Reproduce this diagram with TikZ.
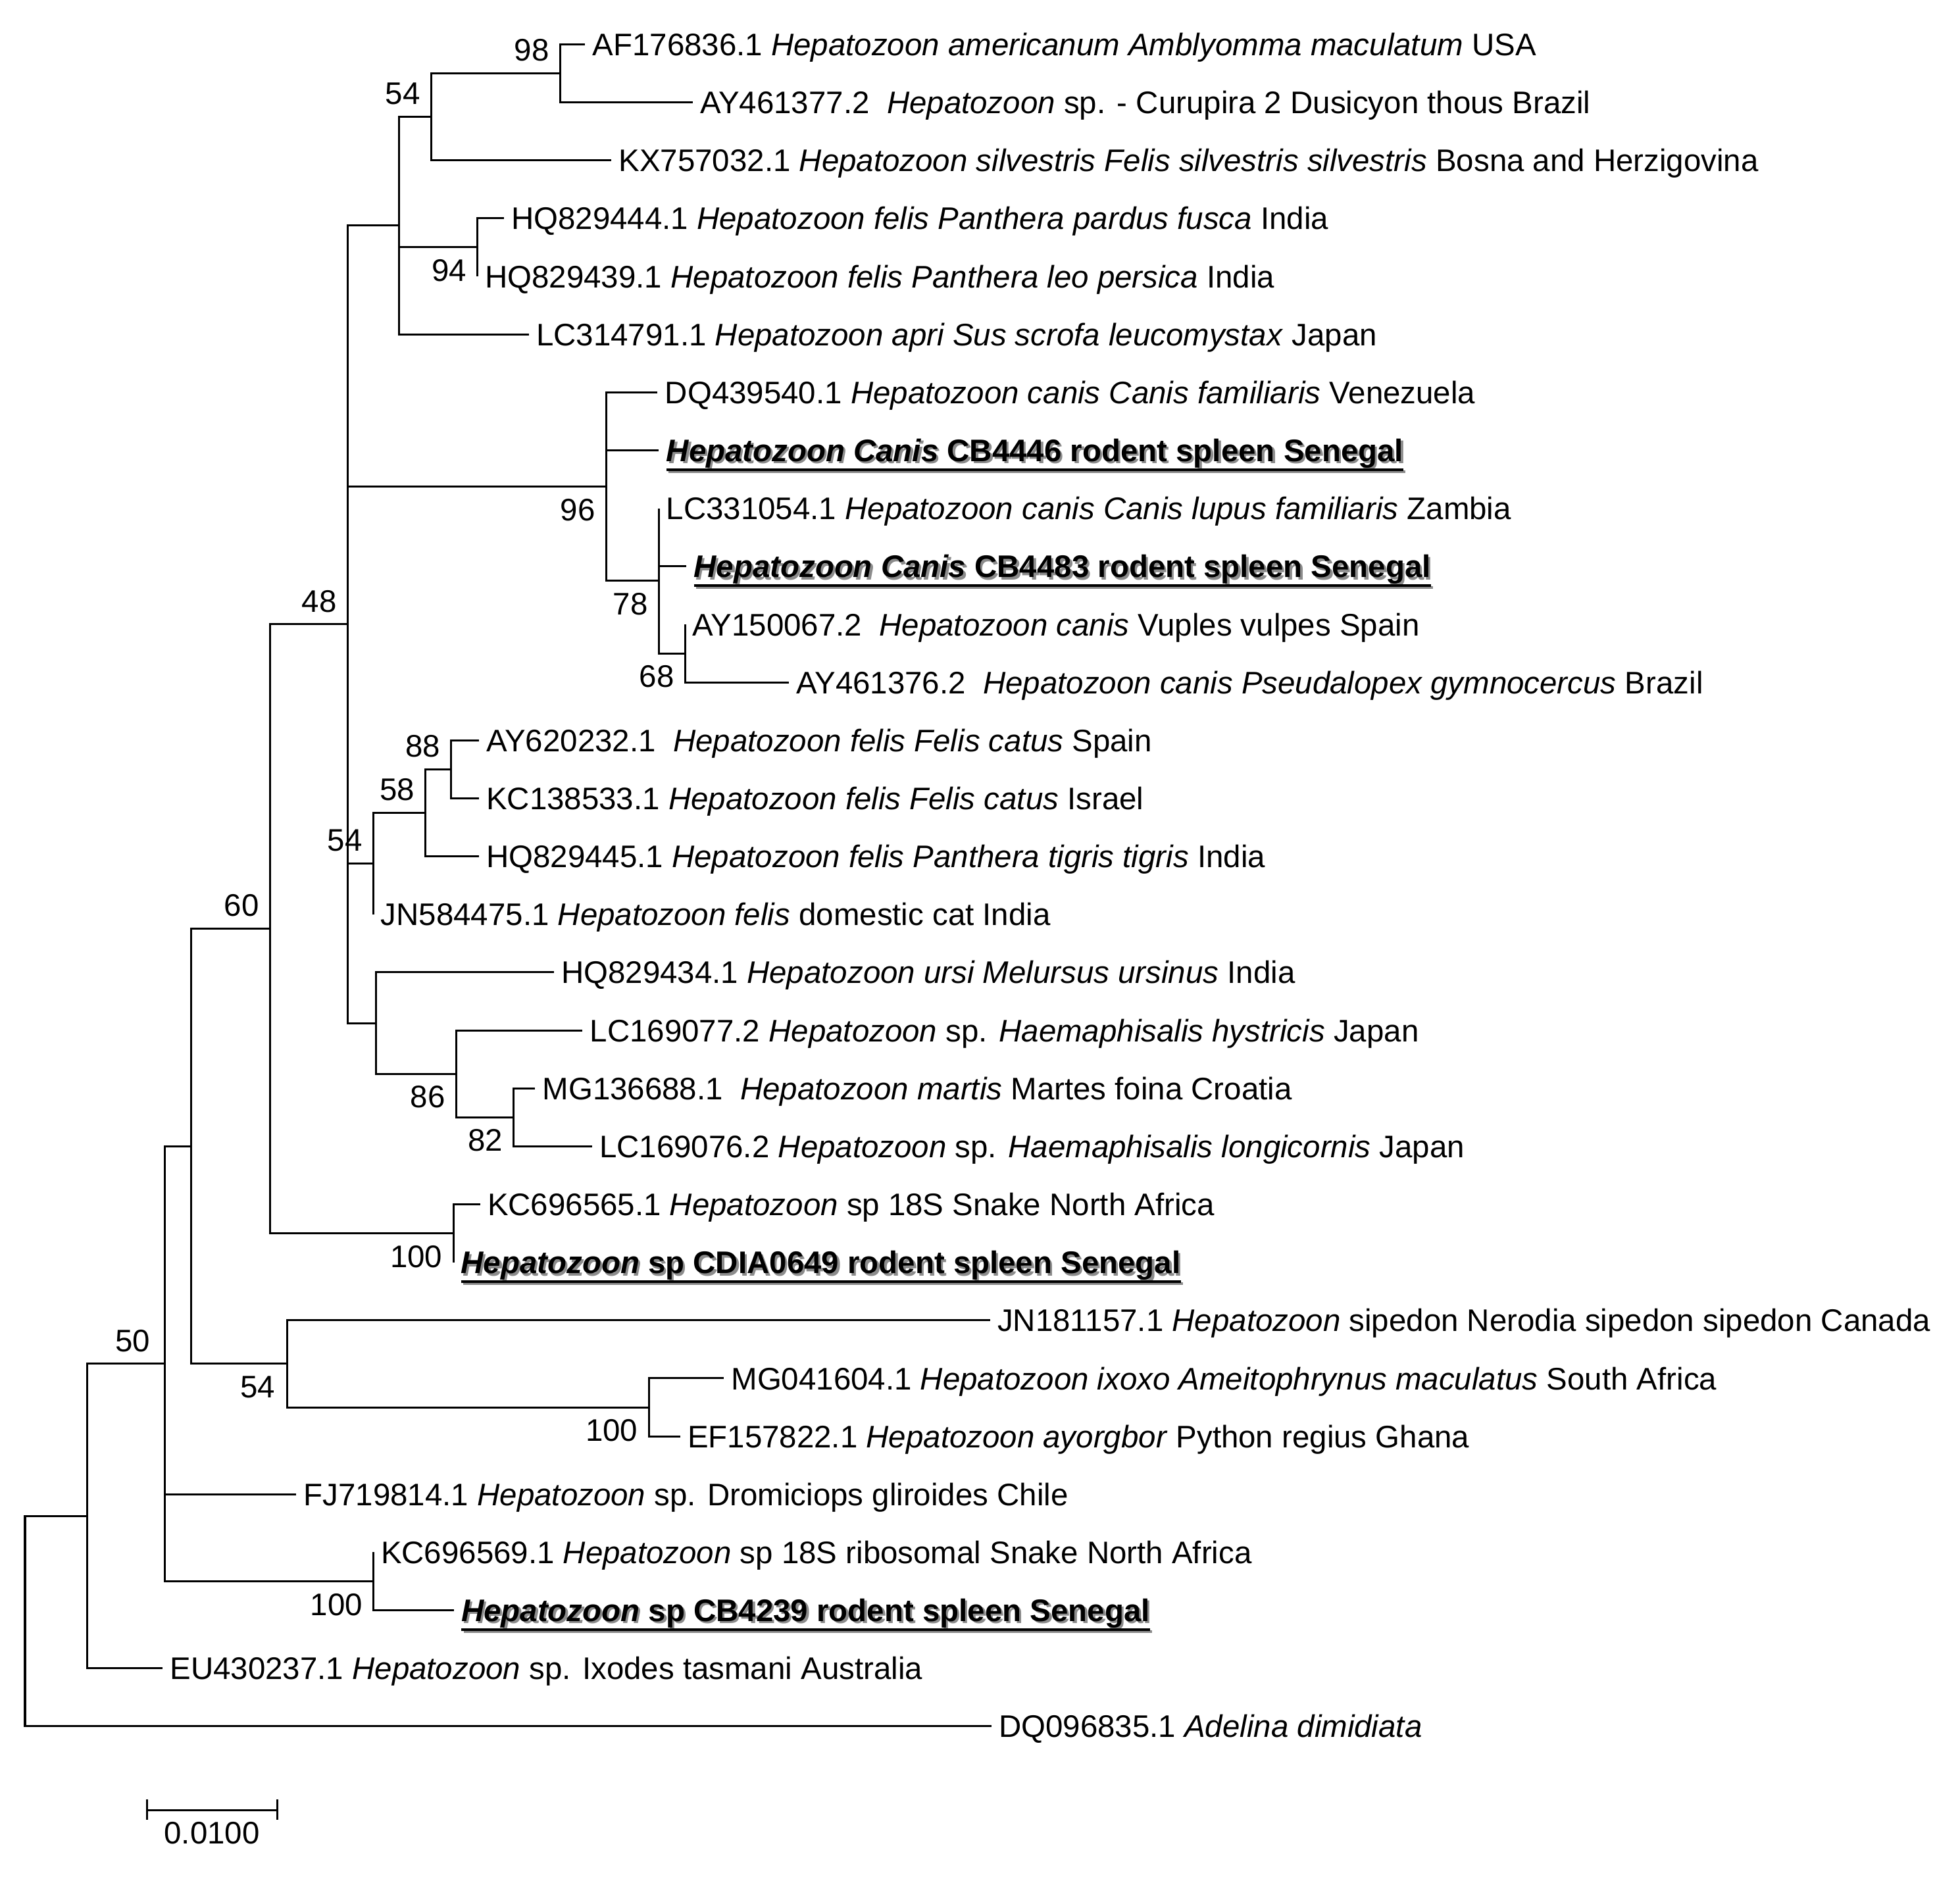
\documentclass[tikz,border=0pt]{standalone}
\usepackage{fontspec}
\setmainfont{Liberation Sans}
\usetikzlibrary{positioning}

\newcommand{\treefont}{\fontsize{7.1}{8.5}\selectfont}
\newcommand{\ourseq}[1]{\setbox0=\hbox{\bfseries #1}%
  \rlap{\hspace{0.5pt}\raisebox{-0.5pt}{\color{black!45}\rlap{\rule[-2.1pt]{\wd0}{0.6pt}}\copy0}}%
  \rlap{\rule[-2.1pt]{\wd0}{0.6pt}}\box0}

\begin{document}
\begin{tikzpicture}[x=0.01cm,y=-0.01cm,line width=0.45pt,
  leaf/.style={anchor=west,inner xsep=1.5pt,inner ysep=0pt,text height=6.6pt,text depth=1.5pt,font=\treefont},
  boot/.style={anchor=east,inner sep=0pt,font=\treefont}]
\useasboundingbox (0,0) rectangle (1568,1503);
% taxa
\node[leaf] (t1) at (468,35.5) {AF176836.1 \textit{Hepatozoon americanum Amblyomma maculatum} USA};
\node[leaf] (t2) at (554,81.9) {AY461377.2~ \textit{Hepatozoon} sp. - Curupira 2 Dusicyon thous Brazil};
\node[leaf] (t3) at (489,128.3) {KX757032.1 \textit{Hepatozoon silvestris Felis silvestris silvestris} Bosna and Herzigovina};
\node[leaf] (t4) at (403,174.7) {HQ829444.1 \textit{Hepatozoon felis Panthera pardus fusca} India};
\node[leaf] (t5) at (382,221.1) {HQ829439.1 \textit{Hepatozoon felis Panthera leo persica} India};
\node[leaf] (t6) at (423,267.5) {LC314791.1 \textit{Hepatozoon apri Sus scrofa leucomystax} Japan};
\node[leaf] (t7) at (526,313.9) {DQ439540.1 \textit{Hepatozoon canis Canis familiaris} Venezuela};
\node[leaf] (t8) at (527,360.3) {\ourseq{\textit{Hepatozoon Canis} CB4446 rodent spleen Senegal}};
\node[leaf] (t9) at (527,406.7) {LC331054.1 \textit{Hepatozoon canis Canis lupus familiaris} Zambia};
\node[leaf] (t10) at (549,453.1) {\ourseq{\textit{Hepatozoon Canis} CB4483 rodent spleen Senegal}};
\node[leaf] (t11) at (548,499.5) {AY150067.2~ \textit{Hepatozoon canis} Vuples vulpes Spain};
\node[leaf] (t12) at (631,545.9) {AY461376.2~ \textit{Hepatozoon canis Pseudalopex gymnocercus} Brazil};
\node[leaf] (t13) at (383,592.3) {AY620232.1~ \textit{Hepatozoon felis Felis catus} Spain};
\node[leaf] (t14) at (383,638.7) {KC138533.1 \textit{Hepatozoon felis Felis catus} Israel};
\node[leaf] (t15) at (383,685.1) {HQ829445.1 \textit{Hepatozoon felis Panthera tigris tigris} India};
\node[leaf] (t16) at (298.6,731.5) {JN584475.1 \textit{Hepatozoon felis} domestic cat India};
\node[leaf] (t17) at (443,777.9) {HQ829434.1 \textit{Hepatozoon ursi Melursus ursinus} India};
\node[leaf] (t18) at (466,824.3) {LC169077.2 \textit{Hepatozoon} sp. \textit{Haemaphisalis hystricis} Japan};
\node[leaf] (t19) at (428,870.7) {MG136688.1~ \textit{Hepatozoon martis} Martes foina Croatia};
\node[leaf] (t20) at (473.5,917.1) {LC169076.2 \textit{Hepatozoon} sp. \textit{Haemaphisalis longicornis} Japan};
\node[leaf] (t21) at (384,963.5) {KC696565.1 \textit{Hepatozoon} sp 18S Snake North Africa};
\node[leaf] (t22) at (362.7,1009.9) {\ourseq{\textit{Hepatozoon} sp CDIA0649 rodent spleen Senegal}};
\node[leaf] (t23) at (792,1056.3) {JN181157.1 \textit{Hepatozoon} sipedon Nerodia sipedon sipedon Canada};
\node[leaf] (t24) at (579,1102.7) {MG041604.1 \textit{Hepatozoon ixoxo Ameitophrynus maculatus} South Africa};
\node[leaf] (t25) at (544,1149.1) {EF157822.1 \textit{Hepatozoon ayorgbor} Python regius Ghana};
\node[leaf] (t26) at (237,1195.5) {FJ719814.1 \textit{Hepatozoon} sp. Dromiciops gliroides Chile};
\node[leaf] (t27) at (298.7,1241.9) {KC696569.1 \textit{Hepatozoon} sp 18S ribosomal Snake North Africa};
\node[leaf] (t28) at (363,1288.3) {\ourseq{\textit{Hepatozoon} sp CB4239 rodent spleen Senegal}};
\node[leaf] (t29) at (130,1334.7) {EU430237.1 \textit{Hepatozoon} sp. Ixodes tasmani Australia};
\node[leaf] (t30) at (793,1381.1) {DQ096835.1 \textit{Adelina dimidiata}};
% internal nodes
\coordinate (n98) at (448,58.7);
\coordinate (n54a) at (345,93.5);
\coordinate (n94) at (382,197.9);
\coordinate (nA) at (319,180.5);
\coordinate (n68) at (548,522.7);
\coordinate (n78) at (527,464.7);
\coordinate (n96) at (485,389.3);
\coordinate (n88) at (361,615.5);
\coordinate (n58) at (340.5,650.3);
\coordinate (n54b) at (298.6,690.9);
\coordinate (n82) at (411,893.9);
\coordinate (n86) at (365,859.1);
\coordinate (nU) at (300.7,818.5);
\coordinate (n48) at (278,499.5);
\coordinate (n100a) at (362.7,986.7);
\coordinate (n60) at (216,743.1);
\coordinate (n100b) at (519,1125.9);
\coordinate (n54c) at (230,1091.1);
\coordinate (nC) at (153,917.1);
\coordinate (n100c) at (298.7,1265.1);
\coordinate (n50) at (132,1091.1);
\coordinate (nE) at (69.5,1212.9);
\coordinate (root) at (20,1297);
% branches
\draw (n98) |- (t1);
\draw (n98) |- (t2);
\draw (n54a) |- (n98);
\draw (n54a) |- (t3);
\draw (n94) |- (t4);
\draw (n94) |- (t5);
\draw (nA) |- (n54a);
\draw (nA) |- (n94);
\draw (nA) |- (t6);
\draw (n68) |- (t11);
\draw (n68) |- (t12);
\draw (n78) |- (t9);
\draw (n78) |- (t10);
\draw (n78) |- (n68);
\draw (n96) |- (t7);
\draw (n96) |- (t8);
\draw (n96) |- (n78);
\draw (n88) |- (t13);
\draw (n88) |- (t14);
\draw (n58) |- (n88);
\draw (n58) |- (t15);
\draw (n54b) |- (n58);
\draw (n54b) |- (t16);
\draw (n82) |- (t19);
\draw (n82) |- (t20);
\draw (n86) |- (t18);
\draw (n86) |- (n82);
\draw (nU) |- (t17);
\draw (nU) |- (n86);
\draw (n48) |- (nA);
\draw (n48) |- (n96);
\draw (n48) |- (n54b);
\draw (n48) |- (nU);
\draw (n100a) |- (t21);
\draw (n100a) |- (t22);
\draw (n60) |- (n48);
\draw (n60) |- (n100a);
\draw (n100b) |- (t24);
\draw (n100b) |- (t25);
\draw (n54c) |- (t23);
\draw (n54c) |- (n100b);
\draw (nC) |- (n60);
\draw (nC) |- (n54c);
\draw (n100c) |- (t27);
\draw (n100c) |- (t28);
\draw (n50) |- (nC);
\draw (n50) |- (t26);
\draw (n50) |- (n100c);
\draw (nE) |- (n50);
\draw (nE) |- (t29);
\draw (root) |- (nE);
\draw (root) |- (t30);
% bootstrap values
\node[boot] (b98) at (440,40.2) {98};
\node[boot] (b54a) at (337,75) {54};
\node[boot] (b94) at (374,216.4) {94};
\node[boot] (b48) at (270,481) {48};
\node[boot] (b96) at (477,407.8) {96};
\node[boot] (b78) at (519,483.2) {78};
\node[boot] (b68) at (540,541.2) {68};
\node[boot] (b88) at (353,597) {88};
\node[boot] (b58) at (332.5,631.8) {58};
\node[boot] (b54b) at (290.6,672.4) {54};
\node[boot] (b60) at (208,724.6) {60};
\node[boot] (b86) at (357,877.6) {86};
\node[boot] (b82) at (403,912.4) {82};
\node[boot] (b100a) at (354.7,1005.2) {100};
\node[boot] (b50) at (121,1072.6) {50};
\node[boot] (b54c) at (221,1109.6) {54};
\node[boot] (b100b) at (511,1144.4) {100};
\node[boot] (b100c) at (290.7,1283.6) {100};
% scale bar
\coordinate (sbl) at (117.4,1448.4);
\coordinate (sbr) at (221.6,1448.4);
\coordinate (sbc) at (169.5,1448.4);
\draw (sbl) -- (sbr);
\draw (117.4,1439.4) -- (117.4,1456);
\draw (221.6,1439.4) -- (221.6,1456);
\node[font=\treefont,inner sep=0pt,below=2.4pt of sbc] (sblab) {0.0100};
\end{tikzpicture}
\end{document}
